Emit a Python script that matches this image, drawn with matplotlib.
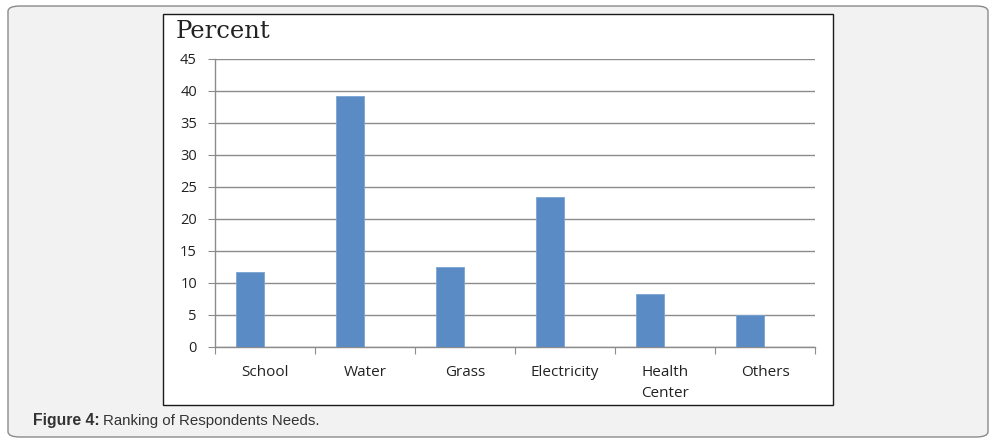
import matplotlib
matplotlib.use("Agg")
import matplotlib.pyplot as plt
from matplotlib.patches import FancyBboxPatch, Rectangle

categories = ["School", "Water", "Grass", "Electricity", "Health\nCenter", "Others"]
values = [11.7, 39.2, 12.5, 23.4, 8.3, 5.0]
yticks = [0, 5, 10, 15, 20, 25, 30, 35, 40, 45]

W, H = 1002, 443
fig = plt.figure(figsize=(W / 100, H / 100), dpi=100)
fig.patch.set_facecolor("white")

# outer rounded panel
outer = FancyBboxPatch((8 / W, 6 / H), (988 - 8) / W, (437 - 6) / H,
                       boxstyle="round,pad=0,rounding_size=0.012",
                       transform=fig.transFigure, facecolor="#f2f2f2",
                       edgecolor="#8a8a8a", linewidth=1.0, zorder=0)
fig.patches.append(outer)

# chart box
box = Rectangle((163 / W, 1 - 405 / H), (833 - 163) / W, (405 - 14) / H,
                transform=fig.transFigure, facecolor="white",
                edgecolor="#1a1a1a", linewidth=1.0, zorder=1)
fig.patches.append(box)

ax = fig.add_axes([215 / W, 1 - 347 / H, (815 - 215) / W, (347 - 59) / H])
ax.set_zorder(2)
ax.patch.set_alpha(0)

x = list(range(len(categories)))
bar_x = [i - 0.15 for i in x]
ax.bar(bar_x, values, width=0.28, color="#5b8bc5", edgecolor="#7aa3d3", linewidth=0.6, zorder=3)

ax.set_xlim(-0.5, len(categories) - 0.5)
ax.set_ylim(0, 45)
ax.set_yticks(yticks)
ax.set_yticklabels([str(v) for v in yticks], fontsize=10.5, family="Open Sans", color="#222222")
ax.yaxis.grid(True, color="#8c8c8c", linewidth=1.0, zorder=1)
ax.set_axisbelow(True)

ax.set_xticks([i - 0.5 for i in range(len(categories) + 1)])
ax.set_xticklabels([])
ax.set_xticks(x, minor=True)
ax.set_xticklabels(categories, minor=True, fontsize=11, family="Open Sans", color="#222222", linespacing=1.55)
ax.tick_params(axis="x", which="minor", length=0, pad=13)
ax.tick_params(axis="x", which="major", length=5, color="#8c8c8c", direction="out")
ax.tick_params(axis="y", length=5, color="#8c8c8c", direction="out", pad=8)
for lab in ax.get_xticklabels(minor=True):
    lab.set_verticalalignment("top")

for s in ["top", "right"]:
    ax.spines[s].set_visible(False)
for s in ["left", "bottom"]:
    ax.spines[s].set_color("#8c8c8c")
    ax.spines[s].set_linewidth(1.0)

fig.text(176 / W, 1 - 31 / H, "Percent", fontsize=17.5, family="DejaVu Serif",
         va="center", ha="left", color="#222222", zorder=5)

fig.text(33 / W, 1 - 421 / H, "Figure 4:", fontsize=11.3, family="Liberation Sans",
         weight="bold", va="center", ha="left", color="#333333")
fig.text(103 / W, 1 - 421 / H, "Ranking of Respondents Needs.", fontsize=10.8,
         family="Liberation Sans", va="center", ha="left", color="#333333")

fig.savefig("out.png", dpi=100)
